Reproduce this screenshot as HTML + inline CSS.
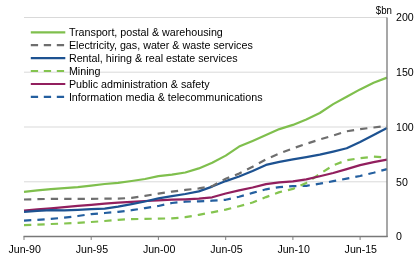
<!DOCTYPE html>
<html><head><meta charset="utf-8"><style>html,body{margin:0;padding:0;background:#fff;width:416px;height:264px;overflow:hidden}svg{display:block;will-change:transform}</style></head>
<body><svg width="416" height="264" viewBox="0 0 416 264">
<rect width="416" height="264" fill="#fff"/>
<line x1="24" y1="181.8" x2="387" y2="181.8" stroke="#d9d9d9" stroke-width="1"/><line x1="24" y1="127.0" x2="387" y2="127.0" stroke="#d9d9d9" stroke-width="1"/><line x1="24" y1="72.2" x2="387" y2="72.2" stroke="#d9d9d9" stroke-width="1"/><line x1="24" y1="17.5" x2="387" y2="17.5" stroke="#d9d9d9" stroke-width="1"/>
<polyline points="24.0,220.6 37.4,219.8 50.9,218.9 64.3,217.7 77.8,216.0 91.2,214.1 104.7,213.0 118.1,211.9 131.6,210.2 145.0,208.1 158.4,206.0 171.9,203.0 185.3,201.6 198.8,201.3 212.2,200.7 225.7,199.8 239.1,196.7 252.6,192.9 266.0,189.3 279.4,187.1 292.9,186.2 306.3,185.8 319.8,183.7 333.2,181.2 346.7,178.6 360.1,176.0 373.6,172.7 387.0,169.1" fill="none" stroke="#245f9f" stroke-width="2.2" stroke-linejoin="round" stroke-dasharray="7.3,6.1"/><polyline points="24.0,225.1 37.4,224.6 50.9,224.0 64.3,223.5 77.8,222.8 91.2,222.0 104.7,221.0 118.1,219.8 131.6,219.1 145.0,218.9 158.4,218.6 171.9,218.4 185.3,217.2 198.8,214.8 212.2,212.3 225.7,209.6 239.1,206.2 252.6,202.5 266.0,197.1 279.4,192.1 292.9,188.9 306.3,182.9 319.8,174.0 333.2,165.3 346.7,160.2 360.1,158.1 373.6,156.7 387.0,157.4" fill="none" stroke="#84c44f" stroke-width="2.2" stroke-linejoin="round" stroke-dasharray="7.3,6.1"/><polyline points="24.0,210.6 37.4,209.4 50.9,208.3 64.3,207.1 77.8,205.9 91.2,204.8 104.7,203.7 118.1,202.7 131.6,201.8 145.0,201.0 158.4,200.4 171.9,199.7 185.3,199.3 198.8,198.7 212.2,197.3 225.7,193.5 239.1,190.4 252.6,187.5 266.0,184.1 279.4,182.3 292.9,181.3 306.3,179.4 319.8,176.2 333.2,173.0 346.7,169.1 360.1,165.1 373.6,162.2 387.0,159.6" fill="none" stroke="#921f5e" stroke-width="2.2" stroke-linejoin="round"/><polyline points="24.0,211.8 37.4,210.8 50.9,210.2 64.3,210.3 77.8,209.8 91.2,209.2 104.7,208.7 118.1,206.7 131.6,204.2 145.0,201.5 158.4,198.4 171.9,196.2 185.3,194.0 198.8,191.4 212.2,186.6 225.7,181.1 239.1,176.5 252.6,171.0 266.0,164.9 279.4,161.9 292.9,159.4 306.3,157.1 319.8,154.6 333.2,151.6 346.7,148.3 360.1,142.0 373.6,135.1 387.0,128.0" fill="none" stroke="#1d5291" stroke-width="2.2" stroke-linejoin="round"/><polyline points="24.0,199.5 37.4,199.2 50.9,198.8 64.3,198.9 77.8,198.9 91.2,198.8 104.7,198.7 118.1,198.6 131.6,197.9 145.0,195.9 158.4,193.6 171.9,191.6 185.3,189.9 198.8,188.4 212.2,186.1 225.7,178.7 239.1,173.6 252.6,166.7 266.0,159.3 279.4,153.5 292.9,148.4 306.3,143.8 319.8,139.5 333.2,135.5 346.7,131.3 360.1,129.2 373.6,127.5 387.0,125.8" fill="none" stroke="#6e6e6e" stroke-width="2.2" stroke-linejoin="round" stroke-dasharray="7.3,6.1"/><polyline points="24.0,191.9 37.4,190.4 50.9,189.1 64.3,188.2 77.8,187.1 91.2,185.6 104.7,184.0 118.1,182.8 131.6,181.0 145.0,179.0 158.4,176.1 171.9,174.6 185.3,172.5 198.8,168.4 212.2,162.7 225.7,155.6 239.1,146.6 252.6,140.9 266.0,135.0 279.4,129.1 292.9,124.9 306.3,119.5 319.8,113.0 333.2,104.1 346.7,96.7 360.1,89.4 373.6,82.7 387.0,77.6" fill="none" stroke="#7fbf4d" stroke-width="2.2" stroke-linejoin="round"/>
<line x1="23.5" y1="236.5" x2="387.7" y2="236.5" stroke="#787878" stroke-width="1.3"/>
<line x1="387" y1="17.5" x2="387" y2="236.9" stroke="#787878" stroke-width="1.3"/>
<line x1="24.0" y1="236.5" x2="24.0" y2="240" stroke="#7f7f7f" stroke-width="1"/><line x1="91.2" y1="236.5" x2="91.2" y2="240" stroke="#7f7f7f" stroke-width="1"/><line x1="158.4" y1="236.5" x2="158.4" y2="240" stroke="#7f7f7f" stroke-width="1"/><line x1="225.7" y1="236.5" x2="225.7" y2="240" stroke="#7f7f7f" stroke-width="1"/><line x1="292.9" y1="236.5" x2="292.9" y2="240" stroke="#7f7f7f" stroke-width="1"/><line x1="360.1" y1="236.5" x2="360.1" y2="240" stroke="#7f7f7f" stroke-width="1"/>
<g font-family="Liberation Sans, sans-serif" font-size="10.6" fill="#000">
<text x="24.7" y="252.9" text-anchor="middle">Jun-90</text><text x="91.9" y="252.9" text-anchor="middle">Jun-95</text><text x="159.1" y="252.9" text-anchor="middle">Jun-00</text><text x="226.4" y="252.9" text-anchor="middle">Jun-05</text><text x="293.6" y="252.9" text-anchor="middle">Jun-10</text><text x="360.8" y="252.9" text-anchor="middle">Jun-15</text>
<text x="396" y="240.3">0</text><text x="396" y="185.6">50</text><text x="396" y="130.8">100</text><text x="396" y="76.0">150</text><text x="396" y="21.3">200</text>
<text x="375.8" y="13.8" textLength="16.2" lengthAdjust="spacingAndGlyphs">$bn</text>
<line x1="30.8" y1="32.3" x2="65.3" y2="32.3" stroke="#7fbf4d" stroke-width="2.2"/><text x="68.9" y="36.1" font-size="10.72">Transport, postal &amp; warehousing</text><line x1="30.8" y1="45.2" x2="65.3" y2="45.2" stroke="#6e6e6e" stroke-width="2.2" stroke-dasharray="7.3,5.7"/><text x="68.9" y="49.0" font-size="10.72">Electricity, gas, water &amp; waste services</text><line x1="30.8" y1="58.1" x2="65.3" y2="58.1" stroke="#1d5291" stroke-width="2.2"/><text x="68.9" y="61.9" font-size="10.72">Rental, hiring &amp; real estate services</text><line x1="30.8" y1="71.0" x2="65.3" y2="71.0" stroke="#84c44f" stroke-width="2.2" stroke-dasharray="7.3,5.7"/><text x="68.9" y="74.8" font-size="10.72">Mining</text><line x1="30.8" y1="84.0" x2="65.3" y2="84.0" stroke="#921f5e" stroke-width="2.2"/><text x="68.9" y="87.8" font-size="10.72">Public administration &amp; safety</text><line x1="30.8" y1="96.9" x2="65.3" y2="96.9" stroke="#245f9f" stroke-width="2.2" stroke-dasharray="7.3,5.7"/><text x="68.9" y="100.7" font-size="10.72">Information media &amp; telecommunications</text>
</g>
</svg></body></html>
